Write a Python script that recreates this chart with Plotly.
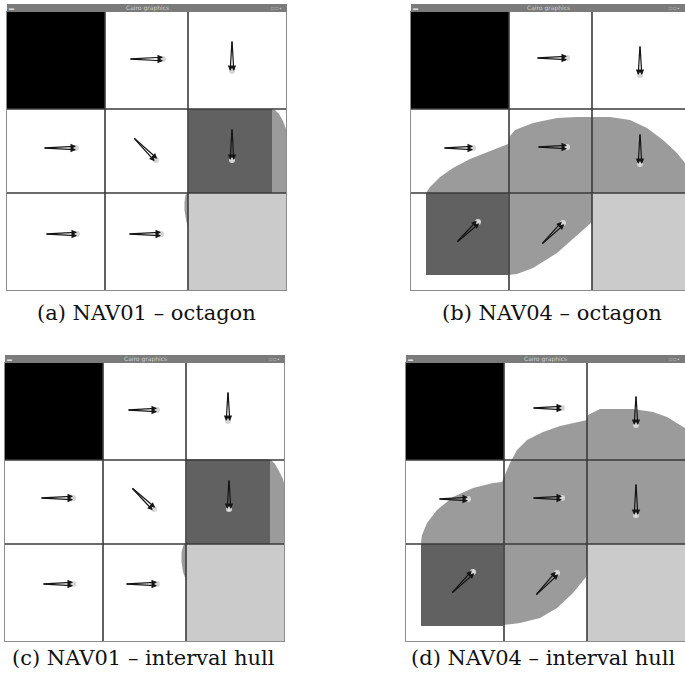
import plotly.graph_objects as go

W, H = 685, 679

# ---------------- data (screenshot pixel units, origin = grid top-left) ----------------
X_EDGES = [0, 98, 181, 279]
Y_EDGES = [0, 97, 181, 278]
OBSTACLE_CELL = (0, 0)   # (row, col)
GOAL_CELL = (2, 2)

START_NAV01 = [182, 265, 97, 181]   # x0, x1, y0, y1
START_NAV04 = [15, 97, 181, 263]

BLOB_A_X = [181, 265, 268, 272, 276, 279, 283, 286, 286, 181, 181, 179, 177.5, 177.5, 178.5, 181]
BLOB_A_Y = [97, 97, 98, 102, 109, 117, 135, 181, 278, 278, 215, 208, 198, 190, 183, 181]

BLOB_C_X = [181, 263, 266, 270, 274, 278, 282, 285, 285, 181, 181, 178, 176.5, 176.5, 178, 181]
BLOB_C_Y = [96, 96, 97, 101, 108, 116, 134, 180, 278, 278, 217, 209, 199, 190, 183, 180]

BLOB_B_X = [15, 19, 29, 42, 59, 76, 89, 97, 99, 104, 122, 146, 166, 182, 199, 219, 236, 252, 266, 274, 290, 290,
            181, 181, 166, 146, 122, 106, 97, 15]
BLOB_B_Y = [181, 175, 165, 156, 147, 140, 135, 132, 124, 118, 111, 106, 105, 105, 105, 108, 116, 128, 141, 151, 170, 200,
            200, 210, 223, 241, 256, 262, 263, 263]

BLOB_D_X = [15, 16, 21, 31, 47, 67, 87, 96, 104, 111, 121, 137, 154, 174, 181, 182, 194, 201, 227, 247, 261, 274, 279, 290, 290,
            181, 180, 167, 151, 134, 114, 97, 15]
BLOB_D_Y = [180, 172, 160, 147, 134, 125, 120, 119, 100, 87, 77, 69, 63, 59, 57, 52, 46, 46, 46, 49, 54, 62, 65, 75, 200,
            200, 214, 230, 245, 255, 260, 262, 262]

# arrows: tail (tx, ty) -> head (hx, hy)
ARR_A_TX = [122, 225, 36, 126, 225, 38, 121]
ARR_A_TY = [47, 28, 136, 125, 116, 222, 222]
ARR_A_HX = [156, 225, 69, 149, 225, 70, 154]
ARR_A_HY = [47, 59, 136, 148, 148, 222, 222]

ARR_B_TX = [125, 229, 32, 126, 229, 45, 130]
ARR_B_TY = [46, 33, 136, 135, 121, 231, 233]
ARR_B_HX = [156, 229, 62, 156, 229, 67, 152]
ARR_B_HY = [46, 63, 136, 135, 152, 210, 211]

ARR_C_TX = [122, 223, 35, 126, 224, 37, 120]
ARR_C_TY = [47, 28, 135, 124, 116, 221, 221]
ARR_C_HX = [152, 223, 68, 149, 224, 68, 152]
ARR_C_HY = [47, 58, 135, 146, 146, 221, 221]

ARR_D_TX = [126, 230, 32, 126, 230, 45, 129]
ARR_D_TY = [45, 32, 136, 135, 120, 231, 233]
ARR_D_HX = [156, 230, 62, 156, 230, 67, 151]
ARR_D_HY = [45, 62, 136, 135, 152, 209, 210]

CAPTIONS = ["(a) NAV01 \u2013 octagon", "(b) NAV04 \u2013 octagon",
            "(c) NAV01 \u2013 interval hull", "(d) NAV04 \u2013 interval hull"]
WINDOW_TITLE = "Cairo graphics"

# ---------------- layout (pixel boxes of each panel grid) ----------------
PANELS = [
    dict(box=(7, 286, 12, 290), start=START_NAV01, bx=BLOB_A_X, by=BLOB_A_Y,
         arr=(ARR_A_TX, ARR_A_TY, ARR_A_HX, ARR_A_HY), cap=(146, 313)),
    dict(box=(411, 685, 12, 290), start=START_NAV04, bx=BLOB_B_X, by=BLOB_B_Y,
         arr=(ARR_B_TX, ARR_B_TY, ARR_B_HX, ARR_B_HY), cap=(552, 313)),
    dict(box=(5, 284, 363, 641), start=START_NAV01, bx=BLOB_C_X, by=BLOB_C_Y,
         arr=(ARR_C_TX, ARR_C_TY, ARR_C_HX, ARR_C_HY), cap=(143, 658)),
    dict(box=(406, 685, 363, 641), start=START_NAV04, bx=BLOB_D_X, by=BLOB_D_Y,
         arr=(ARR_D_TX, ARR_D_TY, ARR_D_HX, ARR_D_HY), cap=(543, 658)),
]

C_OBST = "#000000"
C_START = "#616161"
C_BLOB = "#9b9b9b"
C_GOAL = "#cbcbcb"
C_GRID = "#3a3a3a"
C_BORDER = "#8c8c8c"
C_TITLE = "#7b7b7b"

fig = go.Figure()
annotations = []
shapes = []


def rect_xy(x0, x1, y0, y1):
    return [x0, x1, x1, x0, x0], [y0, y0, y1, y1, y0]


for i, p in enumerate(PANELS):
    sfx = "" if i == 0 else str(i + 1)
    xa, ya = "x" + sfx, "y" + sfx
    x0, x1, y0, y1 = p["box"]
    wpx, hpx = x1 - x0, y1 - y0

    # reachable-set blob
    fig.add_trace(go.Scatter(x=p["bx"], y=p["by"], fill="toself", fillcolor=C_BLOB,
                             line=dict(width=0, color=C_BLOB), mode="lines",
                             hoverinfo="skip", xaxis=xa, yaxis=ya))
    # obstacle cell
    r, c = OBSTACLE_CELL
    rx, ry = rect_xy(X_EDGES[c], X_EDGES[c + 1], Y_EDGES[r], Y_EDGES[r + 1])
    fig.add_trace(go.Scatter(x=rx, y=ry, fill="toself", fillcolor=C_OBST, mode="lines",
                             line=dict(width=0, color=C_OBST), hoverinfo="skip", xaxis=xa, yaxis=ya))
    # goal cell
    r, c = GOAL_CELL
    rx, ry = rect_xy(X_EDGES[c], X_EDGES[c + 1] + 10, Y_EDGES[r], Y_EDGES[r + 1])
    fig.add_trace(go.Scatter(x=rx, y=ry, fill="toself", fillcolor=C_GOAL, mode="lines",
                             line=dict(width=0, color=C_GOAL), hoverinfo="skip", xaxis=xa, yaxis=ya))
    # start square
    s = p["start"]
    rx, ry = rect_xy(s[0], s[1], s[2], s[3])
    fig.add_trace(go.Scatter(x=rx, y=ry, fill="toself", fillcolor=C_START, mode="lines",
                             line=dict(width=0, color=C_START), hoverinfo="skip", xaxis=xa, yaxis=ya))
    # inner grid lines
    gx, gy = [], []
    for e in X_EDGES[1:-1]:
        gx += [e, e, None]
        gy += [Y_EDGES[0], Y_EDGES[-1], None]
    for e in Y_EDGES[1:-1]:
        gx += [X_EDGES[0], X_EDGES[-1] + 10, None]
        gy += [e, e, None]
    fig.add_trace(go.Scatter(x=gx, y=gy, mode="lines", line=dict(color=C_GRID, width=1.6),
                             hoverinfo="skip", xaxis=xa, yaxis=ya))
    # arrow head dots
    tx, ty, hx, hy = p["arr"]
    fig.add_trace(go.Scatter(x=hx, y=hy, mode="markers",
                             marker=dict(size=6, color="#d6d6d6", line=dict(width=0)),
                             hoverinfo="skip", xaxis=xa, yaxis=ya))
    # double arrows
    for k in range(len(tx)):
        dx, dy = hx[k] - tx[k], hy[k] - ty[k]
        ln = (dx * dx + dy * dy) ** 0.5
        nx, ny = -dy / ln, dx / ln
        for sgn in (-1, 1):
            annotations.append(dict(
                x=hx[k] + sgn * 1.8 * nx, y=hy[k] + sgn * 1.8 * ny,
                ax=tx[k], ay=ty[k], xref=xa, yref=ya, axref=xa, ayref=ya,
                text="", showarrow=True, arrowhead=2, arrowsize=0.9, arrowwidth=1.2,
                arrowcolor="#151515", standoff=0, startstandoff=0))

    fig.update_layout(**{
        ("xaxis" + sfx): dict(domain=[x0 / W, x1 / W], range=[0, wpx], showgrid=False,
                              zeroline=False, showticklabels=False, ticks="",
                              showline=True, mirror=True, linecolor=C_BORDER, linewidth=1,
                              anchor=ya, fixedrange=True),
        ("yaxis" + sfx): dict(domain=[1 - y1 / H, 1 - y0 / H], range=[hpx, 0], showgrid=False,
                              zeroline=False, showticklabels=False, ticks="",
                              showline=True, mirror=True, linecolor=C_BORDER, linewidth=1,
                              anchor=xa, fixedrange=True),
    })

    # window title bar
    tb_right = min(x1 + 1, W)
    shapes.append(dict(type="rect", xref="paper", yref="paper",
                       x0=x0 / W, x1=tb_right / W, y0=1 - y0 / H, y1=1 - (y0 - 8) / H,
                       fillcolor=C_TITLE, line=dict(width=0)))
    annotations.append(dict(x=(x0 + tb_right) / 2 / W, y=1 - (y0 - 4) / H, xref="paper", yref="paper",
                            text=WINDOW_TITLE, showarrow=False, font=dict(size=6, color="#cfcfcf",
                                                                          family="DejaVu Sans"),
                            xanchor="center", yanchor="middle"))
    annotations.append(dict(x=(x0 + 4) / W, y=1 - (y0 - 4) / H, xref="paper", yref="paper",
                            text="\u25ac", showarrow=False, font=dict(size=5, color="#e0e0e0"),
                            xanchor="center", yanchor="middle"))
    annotations.append(dict(x=(tb_right - 3) / W, y=1 - (y0 - 4) / H, xref="paper", yref="paper",
                            text="\u25a1 \u25a1 \u25aa", showarrow=False,
                            font=dict(size=5, color="#d0d0d0"),
                            xanchor="right", yanchor="middle"))
    # caption
    annotations.append(dict(x=p["cap"][0] / W, y=1 - p["cap"][1] / H, xref="paper", yref="paper",
                            text=CAPTIONS[i], showarrow=False,
                            font=dict(size=21, color="#111111", family="DejaVu Serif"),
                            xanchor="center", yanchor="middle"))

fig.update_layout(width=W, height=H, margin=dict(l=0, r=0, t=0, b=0),
                  paper_bgcolor="white", plot_bgcolor="white", showlegend=False,
                  annotations=annotations, shapes=shapes)

fig.write_html("out.html", config={"displayModeBar": False, "staticPlot": True},
               post_script="document.body.style.margin='0';document.body.style.padding='0';")
